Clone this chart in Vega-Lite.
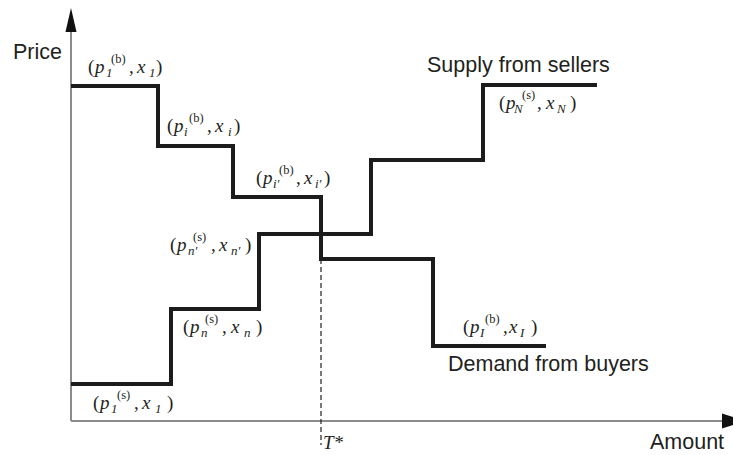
{
  "$schema": "https://vega.github.io/schema/vega-lite/v6.json",
  "width": 733,
  "height": 455,
  "autosize": "none",
  "padding": 0,
  "background": "white",
  "config": {"view": {"stroke": null}},
  "datasets": {
    "axes": [
      {"x": 0, "y": 0, "x2": 65.1, "y2": 0},
      {"x": 0, "y": 0, "x2": 0, "y2": 39.0}
    ],
    "steps": [
      {"series": "Demand from buyers", "x": 0, "y": 33.5},
      {"series": "Demand from buyers", "x": 8.7, "y": 27.5},
      {"series": "Demand from buyers", "x": 16.2, "y": 22.4},
      {"series": "Demand from buyers", "x": 25.0, "y": 16.2},
      {"series": "Demand from buyers", "x": 36.2, "y": 7.5},
      {"series": "Demand from buyers", "x": 47.5, "y": 7.5},
      {"series": "Supply from sellers", "x": 0, "y": 3.7},
      {"series": "Supply from sellers", "x": 10.0, "y": 11.2},
      {"series": "Supply from sellers", "x": 18.8, "y": 18.7},
      {"series": "Supply from sellers", "x": 30.0, "y": 26.1},
      {"series": "Supply from sellers", "x": 41.2, "y": 33.6},
      {"series": "Supply from sellers", "x": 52.6, "y": 33.6}
    ],
    "sans": [
      {"x": -5.8, "y": 36.2, "text": "Price"},
      {"x": 35.6, "y": 34.9, "text": "Supply from sellers"},
      {"x": 37.7, "y": 5.0, "text": "Demand from buyers"},
      {"x": 57.9, "y": -2.8, "text": "Amount"}
    ],
    "roman": [
      {"x": 1.7, "y": 34.8, "text": "("}, {"x": 5.8, "y": 34.8, "text": ","}, {"x": 8.5, "y": 34.8, "text": ")"},
      {"x": 9.6, "y": 28.9, "text": "("}, {"x": 13.6, "y": 28.9, "text": ","}, {"x": 16.3, "y": 28.9, "text": ")"},
      {"x": 18.5, "y": 23.7, "text": "("}, {"x": 22.5, "y": 23.7, "text": ","}, {"x": 25.3, "y": 23.7, "text": ")"},
      {"x": 42.8, "y": 31.2, "text": "("}, {"x": 46.6, "y": 31.2, "text": ","}, {"x": 49.9, "y": 31.2, "text": ")"},
      {"x": 9.9, "y": 17.0, "text": "("}, {"x": 14.0, "y": 17.0, "text": ","}, {"x": 17.4, "y": 17.0, "text": ")"},
      {"x": 11.2, "y": 8.8, "text": "("}, {"x": 15.1, "y": 8.8, "text": ","}, {"x": 18.5, "y": 8.8, "text": ")"},
      {"x": 2.2, "y": 1.2, "text": "("}, {"x": 6.3, "y": 1.2, "text": ","}, {"x": 9.6, "y": 1.2, "text": ")"},
      {"x": 39.2, "y": 8.8, "text": "("}, {"x": 43.2, "y": 8.8, "text": ","}, {"x": 46.0, "y": 8.8, "text": ")"}
    ],
    "italic": [
      {"x": 2.4, "y": 34.8, "text": "p"}, {"x": 6.6, "y": 34.8, "text": "x"},
      {"x": 10.3, "y": 28.9, "text": "p"}, {"x": 14.4, "y": 28.9, "text": "x"},
      {"x": 19.2, "y": 23.7, "text": "p"}, {"x": 23.3, "y": 23.7, "text": "x"},
      {"x": 43.5, "y": 31.2, "text": "p"}, {"x": 47.5, "y": 31.2, "text": "x"},
      {"x": 10.6, "y": 17.0, "text": "p"}, {"x": 14.8, "y": 17.0, "text": "x"},
      {"x": 11.9, "y": 8.8, "text": "p"}, {"x": 16.0, "y": 8.8, "text": "x"},
      {"x": 2.9, "y": 1.2, "text": "p"}, {"x": 7.1, "y": 1.2, "text": "x"},
      {"x": 39.9, "y": 8.8, "text": "p"}, {"x": 43.8, "y": 8.8, "text": "x"},
      {"x": 25.2, "y": -2.8, "text": "T*"}
    ],
    "sub": [
      {"x": 3.5, "y": 34.8, "text": "1"}, {"x": 7.8, "y": 34.8, "text": "1"},
      {"x": 11.3, "y": 28.9, "text": "i"}, {"x": 15.7, "y": 28.9, "text": "i"},
      {"x": 20.2, "y": 23.7, "text": "i′"}, {"x": 24.4, "y": 23.7, "text": "i′"},
      {"x": 44.3, "y": 31.2, "text": "N"}, {"x": 48.6, "y": 31.2, "text": "N"},
      {"x": 11.7, "y": 17.0, "text": "n′"}, {"x": 16.0, "y": 17.0, "text": "n′"},
      {"x": 13.0, "y": 8.8, "text": "n"}, {"x": 17.3, "y": 8.8, "text": "n"},
      {"x": 4.0, "y": 1.2, "text": "1"}, {"x": 8.4, "y": 1.2, "text": "1"},
      {"x": 40.9, "y": 8.8, "text": "I"}, {"x": 44.9, "y": 8.8, "text": "I"}
    ],
    "sup": [
      {"x": 4.0, "y": 34.8, "text": "(b)"},
      {"x": 11.8, "y": 28.9, "text": "(b)"},
      {"x": 20.8, "y": 23.7, "text": "(b)"},
      {"x": 45.1, "y": 31.2, "text": "(s)"},
      {"x": 12.2, "y": 17.0, "text": "(s)"},
      {"x": 13.4, "y": 8.8, "text": "(s)"},
      {"x": 4.6, "y": 1.2, "text": "(s)"},
      {"x": 41.4, "y": 8.8, "text": "(b)"}
    ]
  },
  "encoding": {
    "x": {"field": "x", "type": "quantitative", "scale": {"domain": [-7.1, 66.2], "nice": false, "zero": false}, "axis": null},
    "y": {"field": "y", "type": "quantitative", "scale": {"domain": [-3.4, 42.1], "nice": false, "zero": false}, "axis": null}
  },
  "layer": [
    {
      "data": {"name": "axes"},
      "mark": {"type": "rule", "color": "#8c8c8c", "strokeWidth": 2},
      "encoding": {"x2": {"field": "x2"}, "y2": {"field": "y2"}}
    },
    {
      "data": {"values": [{"x": 25.0, "y": 16.2, "y2": -2.4}]},
      "mark": {"type": "rule", "color": "#222222", "strokeWidth": 1.2, "strokeDash": [5, 3]},
      "encoding": {"y2": {"field": "y2"}}
    },
    {
      "data": {"name": "steps"},
      "mark": {"type": "line", "interpolate": "step-after", "color": "#1c1c1c", "strokeWidth": 4, "strokeJoin": "miter", "strokeCap": "butt"},
      "encoding": {"detail": {"field": "series"}}
    },
    {
      "data": {"values": [{"x": 0, "y": 40.1}]},
      "mark": {"type": "point", "shape": "M0,-1L0.46,1L-0.46,1Z", "size": 576, "filled": true, "color": "#111111", "opacity": 1, "strokeWidth": 0},
      "encoding": {}
    },
    {
      "data": {"values": [{"x": 66.3, "y": 0}]},
      "mark": {"type": "point", "shape": "M1,0L-1,0.62L-1,-0.62Z", "size": 576, "filled": true, "color": "#111111", "opacity": 1, "strokeWidth": 0},
      "encoding": {}
    },
    {
      "data": {"name": "sans"},
      "mark": {"type": "text", "font": "Liberation Sans", "fontSize": 21.5, "align": "left", "baseline": "alphabetic", "color": "#231f20"},
      "encoding": {"text": {"field": "text"}}
    },
    {
      "data": {"name": "roman"},
      "mark": {"type": "text", "font": "Liberation Serif", "fontSize": 19, "align": "left", "baseline": "alphabetic", "color": "#231f20"},
      "encoding": {"text": {"field": "text"}}
    },
    {
      "data": {"name": "italic"},
      "mark": {"type": "text", "font": "Liberation Serif", "fontStyle": "italic", "fontSize": 19, "align": "left", "baseline": "alphabetic", "color": "#231f20"},
      "encoding": {"text": {"field": "text"}}
    },
    {
      "data": {"name": "sub"},
      "mark": {"type": "text", "font": "Liberation Serif", "fontStyle": "italic", "fontSize": 13, "dy": 4, "align": "left", "baseline": "alphabetic", "color": "#231f20"},
      "encoding": {"text": {"field": "text"}}
    },
    {
      "data": {"name": "sup"},
      "mark": {"type": "text", "font": "Liberation Serif", "fontSize": 12.5, "dy": -10, "align": "left", "baseline": "alphabetic", "color": "#231f20"},
      "encoding": {"text": {"field": "text"}}
    }
  ]
}
